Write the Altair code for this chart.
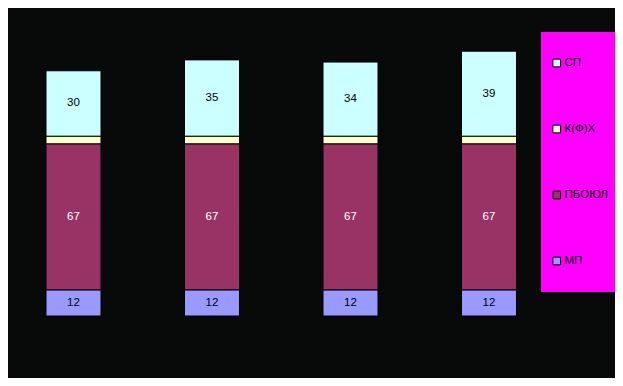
import altair as alt
import pandas as pd

categories = ["1", "2", "3", "4"]
series = ["МП", "ПБОЮЛ", "К(Ф)Х", "СП"]          # bottom to top
mp = [12, 12, 12, 12]
pboyul = [67, 67, 67, 67]
kfh = [3.5, 3.5, 3.5, 3.5]
sp = [30, 35, 34, 39]

legend_order = ["СП", "К(Ф)Х", "ПБОЮЛ", "МП"]
legend_colors = ["#CCFFFF", "#FFFFCC", "#993366", "#9999FF"]

rows = []
for i, c in enumerate(categories):
    for k, (s, vals) in enumerate(zip(series, [mp, pboyul, kfh, sp])):
        rows.append({"cat": c, "series": s, "value": vals[i], "ord": k})
df = pd.DataFrame(rows)

x = alt.X("cat:N", axis=None,
          scale=alt.Scale(paddingInner=0.603, paddingOuter=0.2744))

base = alt.Chart(df).transform_stack(
    stack="value", groupby=["cat"], as_=["y0", "y1"],
    sort=[alt.SortField("ord", order="ascending")]
)

yscale = alt.Scale(domain=[0, 141.3], nice=False, zero=True)

bars = base.mark_bar(stroke="black", strokeWidth=1).encode(
    x=x,
    y=alt.Y("y0:Q", scale=yscale, axis=None),
    y2="y1:Q",
    fill=alt.Fill("series:N",
                  scale=alt.Scale(domain=legend_order, range=legend_colors),
                  legend=alt.Legend(
                      title=None, orient="none", legendX=533, legendY=24,
                      fillColor="#FF00FF", padding=10, clipHeight=42,
                      rowPadding=24, symbolType="square", symbolSize=60,
                      symbolStrokeColor="black", symbolStrokeWidth=1,
                      labelFont="Liberation Sans", labelFontSize=11.5,
                      labelColor="black", labelOffset=2, labelLimit=200)),
)

labels = base.transform_filter("datum.series != 'К(Ф)Х'").transform_calculate(
    mid="(datum.y0 + datum.y1) / 2"
).mark_text(font="Liberation Sans", fontSize=11.5, baseline="middle").encode(
    x=x,
    y=alt.Y("mid:Q", scale=yscale, axis=None),
    text=alt.Text("value:Q", format="d"),
    color=alt.condition("datum.series == 'ПБОЮЛ'", alt.value("white"), alt.value("black")),
)

chart = alt.layer(bars, labels).properties(
    width=546.5, height=308,
    background="#080a0a",
    padding={"left": 0, "top": 0, "right": 60.5, "bottom": 62},
    autosize=alt.AutoSizeParams(type="none"),
).configure_view(stroke=None)

chart.save("out.html", embed_options={"renderer": "svg", "actions": False})
